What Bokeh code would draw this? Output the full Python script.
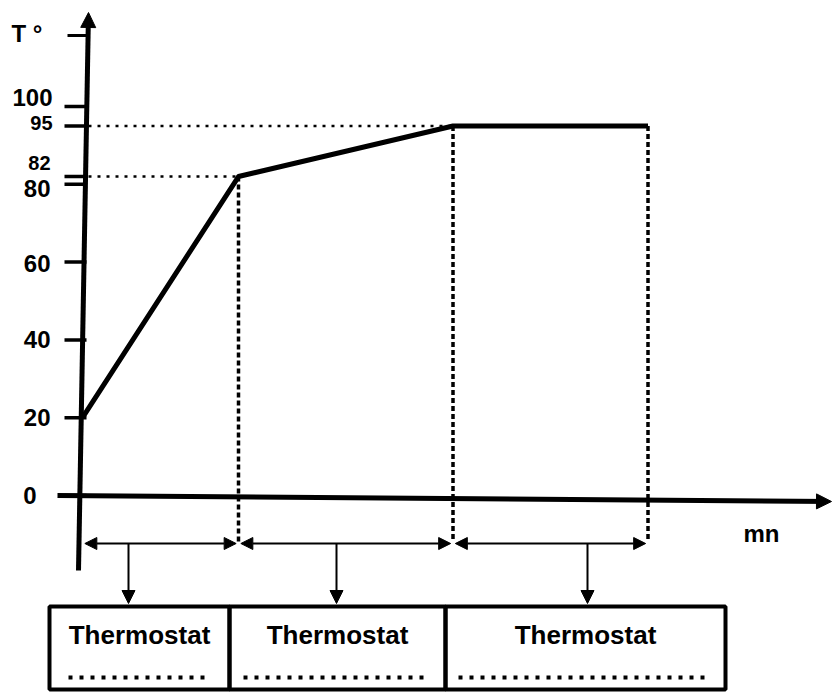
from bokeh.plotting import figure
from bokeh.models import Range1d, Arrow, NormalHead, ColumnDataSource
from bokeh.core.properties import value
from bokeh.embed import file_html
from bokeh.resources import INLINE

# ---------------- data ----------------
time_points = [0, 4, 9.5, 14.5]          # mn (kink points of the heating curve)
temperatures = [20, 82, 95, 95]          # T °
tick_values = [0, 20, 40, 60, 80, 82, 95, 100]
tick_labels = ["0", "20", "40", "60", "80", "82", "95", "100"]
stage_labels = ["Thermostat", "Thermostat", "Thermostat"]
y_title = "T °"
x_title = "mn"

# ---------------- layout helpers (pixel -> data) ----------------
W, H = 832, 694
PX0_X, PX_PER_MIN = 82, 39.0
PX0_Y, PX_PER_DEG = 495, 3.89


def X(px):
    return (px - PX0_X) / PX_PER_MIN


def Y(py):
    return (PX0_Y - py) / PX_PER_DEG


FONT = value("Liberation Sans")
BLACK = "#000000"

p = figure(width=W, height=H, output_backend="svg", toolbar_location=None,
           x_axis_type=None, y_axis_type=None, min_border=0,
           x_range=Range1d(X(0), X(W)), y_range=Range1d(Y(H), Y(0)),
           outline_line_color=None, background_fill_color="white",
           border_fill_color="white")

# axes (hand-drawn style arrows)
p.add_layout(Arrow(x_start=X(78), y_start=Y(570), x_end=X(88), y_end=Y(12),
                   line_width=5, line_color=BLACK,
                   end=NormalHead(size=15, fill_color=BLACK, line_color=BLACK)))
p.add_layout(Arrow(x_start=X(57), y_start=0, x_end=X(831), y_end=Y(501),
                   line_width=5, line_color=BLACK,
                   end=NormalHead(size=15, fill_color=BLACK, line_color=BLACK)))

# y ticks
p.segment(x0=[X(64)] * len(tick_values), x1=[X(86)] * len(tick_values),
          y0=tick_values, y1=tick_values, line_width=3.5, line_color=BLACK)
# tick for axis title
p.segment(x0=[X(67)], x1=[X(88)], y0=[Y(35)], y1=[Y(35)], line_width=3, line_color=BLACK)

# tick labels
lab_size = ["24px", "24px", "24px", "24px", "24px", "20px", "20px", "24px"]
lab_xoff = [-14, 0, 0, 0, 0, 0, 2, 2]
lab_yoff = [0, 0, 0, 1, 4, -14, -3, -9]
src = ColumnDataSource(dict(x=[X(50)] * len(tick_values), y=tick_values, text=tick_labels,
                            size=lab_size, xoff=lab_xoff, yoff=lab_yoff))
p.text(x="x", y="y", text="text", source=src, text_font=FONT, text_font_style="bold",
       text_font_size="size", x_offset="xoff", y_offset="yoff",
       text_align="right", text_baseline="middle", text_color=BLACK)

# axis titles
p.text(x=[X(11)], y=[Y(33)], text=[y_title], text_font=FONT, text_font_style="bold",
       text_font_size=value("24px"), text_align="left", text_baseline="middle")
p.text(x=[X(743)], y=[Y(533)], text=[x_title], text_font=FONT, text_font_style="bold",
       text_font_size=value("24px"), text_align="left", text_baseline="middle")

# guide lines
gx = time_points[1:3]
gy = temperatures[1:3]
p.segment(x0=[X(88)] * 2, x1=gx, y0=gy, y1=gy, line_width=2.5,
          line_dash="3 6", line_color=BLACK)
p.segment(x0=time_points[1:], x1=time_points[1:], y0=temperatures[1:],
          y1=[Y(541)] * 3, line_width=3.5, line_dash="5 3", line_color=BLACK)

# heating curve
p.line(time_points, temperatures, line_width=5, line_color=BLACK, line_join="round")

# double arrows between stages
row_y = Y(543)
gap = 0.06
for a, b in zip(time_points[:-1], time_points[1:]):
    p.add_layout(Arrow(x_start=a + gap, y_start=row_y, x_end=b - gap, y_end=row_y,
                       line_width=2, line_color=BLACK,
                       start=NormalHead(size=12, fill_color=BLACK, line_color=BLACK),
                       end=NormalHead(size=12, fill_color=BLACK, line_color=BLACK)))

# down arrows to boxes
for px in [128, 336, 587]:
    p.add_layout(Arrow(x_start=X(px), y_start=row_y, x_end=X(px), y_end=Y(603),
                       line_width=2, line_color=BLACK,
                       end=NormalHead(size=13, fill_color=BLACK, line_color=BLACK)))

# boxes
edges = [49, 229, 445, 725]
p.quad(left=[X(e) for e in edges[:-1]], right=[X(e) for e in edges[1:]],
       top=[Y(606)] * 3, bottom=[Y(689)] * 3, fill_color=None,
       line_color=BLACK, line_width=4)
centers = [X((a + b) / 2) for a, b in zip(edges[:-1], edges[1:])]
p.text(x=centers, y=[Y(634)] * 3, text=stage_labels, text_font=FONT,
       text_font_style="bold", text_font_size=value("26px"),
       text_align="center", text_baseline="middle", text_color=BLACK)
p.segment(x0=[X(68), X(243), X(458)], x1=[X(210), X(425), X(710)],
          y0=[Y(677)] * 3, y1=[Y(677)] * 3, line_width=4, line_dash="4 7",
          line_color=BLACK)

open("out.html", "w").write(file_html(p, INLINE))
